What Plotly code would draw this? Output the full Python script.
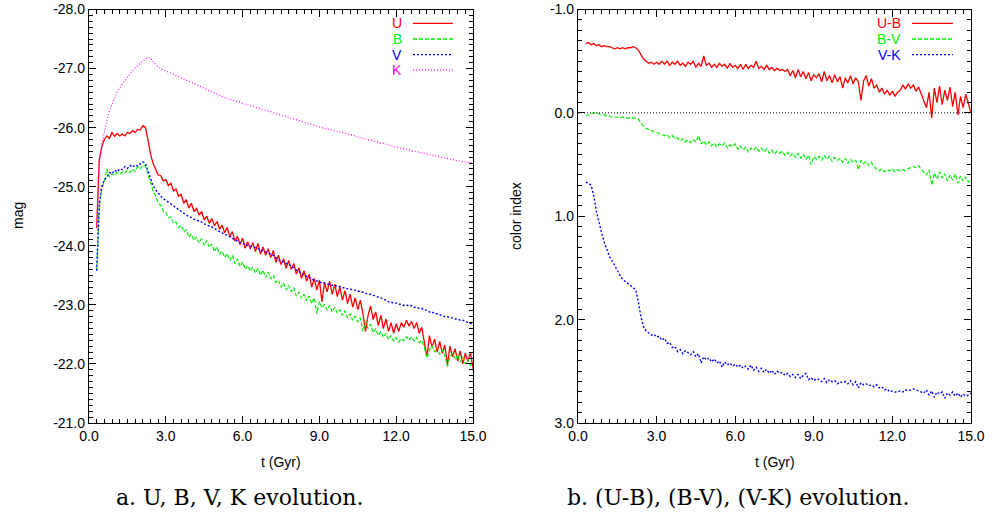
import plotly.graph_objects as go

# ---------------- data ----------------
t_gyr = [
    0.3, 0.4, 0.5, 0.6, 0.7, 0.8, 0.9, 1.0, 1.1, 1.2,
    1.3, 1.4, 1.5, 1.6, 1.7, 1.8, 1.9, 2.0, 2.1, 2.2,
    2.3, 2.4, 2.5, 2.6, 2.7, 2.8, 2.9, 3.0, 3.1, 3.2,
    3.3, 3.4, 3.5, 3.6, 3.7, 3.8, 3.9, 4.0, 4.1, 4.2,
    4.3, 4.4, 4.5, 4.6, 4.7, 4.8, 4.9, 5.0, 5.1, 5.2,
    5.3, 5.4, 5.5, 5.6, 5.7, 5.8, 5.9, 6.0, 6.1, 6.2,
    6.3, 6.4, 6.5, 6.6, 6.7, 6.8, 6.9, 7.0, 7.1, 7.2,
    7.3, 7.4, 7.5, 7.6, 7.7, 7.8, 7.9, 8.0, 8.1, 8.2,
    8.3, 8.4, 8.5, 8.6, 8.7, 8.8, 8.9, 9.0, 9.1, 9.2,
    9.3, 9.4, 9.5, 9.6, 9.7, 9.8, 9.9, 10.0, 10.1, 10.2,
    10.3, 10.4, 10.5, 10.6, 10.7, 10.8, 10.9, 11.0, 11.1, 11.2,
    11.3, 11.4, 11.5, 11.6, 11.7, 11.8, 11.9, 12.0, 12.1, 12.2,
    12.3, 12.4, 12.5, 12.6, 12.7, 12.8, 12.9, 13.0, 13.1, 13.2,
    13.3, 13.4, 13.5, 13.6, 13.7, 13.8, 13.9, 14.0, 14.1, 14.2,
    14.3, 14.4, 14.5, 14.6, 14.7, 14.8, 14.9, 15.0,
]

mag_U = [
    -24.30, -25.45, -25.68, -25.80, -25.86, -25.82, -25.92, -25.85, -25.90, -25.86,
    -25.89, -25.86, -25.92, -25.90, -25.95, -25.92, -25.97, -25.96, -26.03, -26.01,
    -25.80, -25.56, -25.40, -25.31, -25.20, -25.19, -25.10, -25.12, -25.02, -25.06,
    -24.93, -24.96, -24.84, -24.87, -24.72, -24.78, -24.64, -24.72, -24.58, -24.63,
    -24.52, -24.58, -24.44, -24.50, -24.38, -24.46, -24.34, -24.41, -24.28, -24.35,
    -24.22, -24.31, -24.15, -24.24, -24.08, -24.16, -24.02, -24.13, -23.96, -24.07,
    -23.95, -24.05, -23.90, -24.04, -23.86, -23.98, -23.84, -23.95, -23.80, -23.92,
    -23.72, -23.84, -23.68, -23.78, -23.62, -23.75, -23.60, -23.70, -23.52, -23.63,
    -23.45, -23.58, -23.40, -23.52, -23.30, -23.45, -23.25, -23.42, -23.05, -23.38,
    -23.22, -23.40, -23.18, -23.35, -23.14, -23.30, -23.08, -23.24, -23.02, -23.18,
    -22.96, -23.12, -22.92, -23.08, -22.85, -22.55, -22.82, -22.98, -22.75, -22.88,
    -22.65, -22.82, -22.60, -22.76, -22.55, -22.70, -22.52, -22.68, -22.55, -22.70,
    -22.62, -22.74, -22.64, -22.72, -22.60, -22.70, -22.52, -22.62, -22.40, -22.12,
    -22.48, -22.28, -22.42, -22.20, -22.38, -22.18, -22.32, -21.98, -22.30, -22.12,
    -22.26, -22.05, -22.22, -22.00, -22.18, -22.04, -22.20, -21.92,
]

mag_B = [
    -23.58, -24.65, -24.97, -25.08, -25.30, -25.16, -25.22, -25.19, -25.24, -25.21,
    -25.25, -25.23, -25.28, -25.24, -25.30, -25.26, -25.34, -25.30, -25.37, -25.35,
    -25.22, -25.06, -24.93, -24.85, -24.72, -24.69, -24.58, -24.57, -24.47, -24.49,
    -24.38, -24.40, -24.31, -24.35, -24.23, -24.27, -24.14, -24.20, -24.09, -24.15,
    -24.05, -24.12, -24.01, -24.09, -23.97, -24.03, -23.90, -23.98, -23.85, -23.91,
    -23.80, -23.87, -23.75, -23.84, -23.70, -23.78, -23.65, -23.73, -23.60, -23.67,
    -23.57, -23.64, -23.54, -23.62, -23.50, -23.59, -23.46, -23.55, -23.44, -23.50,
    -23.38, -23.42, -23.30, -23.37, -23.25, -23.33, -23.22, -23.29, -23.15, -23.22,
    -23.11, -23.18, -23.07, -23.15, -23.02, -23.12, -22.85, -23.06, -22.95, -23.01,
    -22.91, -22.99, -22.88, -22.96, -22.86, -22.92, -22.82, -22.90, -22.78, -22.85,
    -22.74, -22.81, -22.71, -22.78, -22.55, -22.72, -22.60, -22.67, -22.53, -22.60,
    -22.48, -22.55, -22.45, -22.52, -22.41, -22.48, -22.39, -22.45, -22.37, -22.43,
    -22.39, -22.46, -22.40, -22.46, -22.39, -22.45, -22.36, -22.40, -22.28, -22.10,
    -22.24, -22.31, -22.20, -22.28, -22.16, -22.24, -22.14, -21.96, -22.12, -22.19,
    -22.07, -22.15, -22.03, -22.12, -22.00, -22.08, -21.97, -22.02,
]

mag_V = [
    -23.58, -24.70, -25.00, -25.12, -25.16, -25.24, -25.22, -25.28, -25.25, -25.30,
    -25.29, -25.34, -25.31, -25.36, -25.33, -25.37, -25.35, -25.39, -25.42, -25.40,
    -25.28, -25.13, -25.02, -24.95, -24.89, -24.84, -24.80, -24.77, -24.73, -24.71,
    -24.67, -24.65, -24.61, -24.59, -24.55, -24.53, -24.49, -24.48, -24.45, -24.44,
    -24.41, -24.40, -24.37, -24.36, -24.33, -24.32, -24.29, -24.27, -24.24, -24.22,
    -24.19, -24.18, -24.15, -24.13, -24.10, -24.08, -24.05, -24.04, -24.01, -24.01,
    -23.99, -23.99, -23.97, -23.96, -23.93, -23.92, -23.89, -23.88, -23.85, -23.84,
    -23.80, -23.77, -23.73, -23.73, -23.70, -23.69, -23.65, -23.63, -23.59, -23.57,
    -23.53, -23.51, -23.48, -23.47, -23.43, -23.42, -23.40, -23.39, -23.37, -23.37,
    -23.35, -23.35, -23.33, -23.33, -23.31, -23.31, -23.29, -23.29, -23.27, -23.27,
    -23.25, -23.25, -23.23, -23.23, -23.21, -23.20, -23.18, -23.18, -23.16, -23.15,
    -23.13, -23.12, -23.09, -23.08, -23.05, -23.05, -23.03, -23.03, -23.01, -23.01,
    -22.99, -23.00, -22.98, -22.99, -22.96, -22.96, -22.94, -22.94, -22.91, -22.91,
    -22.88, -22.88, -22.85, -22.85, -22.83, -22.82, -22.80, -22.80, -22.78, -22.78,
    -22.76, -22.76, -22.74, -22.74, -22.72, -22.71, -22.69, -22.67,
]

mag_K = [
    -24.30, -25.35, -25.72, -25.95, -26.12, -26.28, -26.40, -26.50, -26.60, -26.68,
    -26.74, -26.80, -26.86, -26.91, -26.96, -27.01, -27.05, -27.09, -27.13, -27.16,
    -27.19, -27.18, -27.12, -27.07, -27.03, -27.00, -26.98, -26.96, -26.94, -26.92,
    -26.90, -26.88, -26.86, -26.84, -26.82, -26.80, -26.78, -26.76, -26.74, -26.72,
    -26.70, -26.68, -26.66, -26.64, -26.62, -26.60, -26.58, -26.56, -26.54, -26.52,
    -26.51, -26.49, -26.48, -26.47, -26.45, -26.44, -26.43, -26.41, -26.40, -26.39,
    -26.37, -26.36, -26.35, -26.33, -26.32, -26.31, -26.29, -26.28, -26.27, -26.25,
    -26.24, -26.23, -26.21, -26.20, -26.19, -26.17, -26.16, -26.15, -26.13, -26.12,
    -26.11, -26.09, -26.08, -26.07, -26.05, -26.04, -26.03, -26.01, -26.00, -25.99,
    -25.98, -25.97, -25.96, -25.95, -25.93, -25.92, -25.91, -25.90, -25.89, -25.88,
    -25.87, -25.86, -25.84, -25.83, -25.82, -25.81, -25.80, -25.79, -25.78, -25.77,
    -25.76, -25.75, -25.73, -25.72, -25.71, -25.70, -25.68, -25.67, -25.66, -25.65,
    -25.64, -25.63, -25.62, -25.61, -25.60, -25.59, -25.58, -25.57, -25.56, -25.55,
    -25.54, -25.53, -25.52, -25.51, -25.50, -25.49, -25.48, -25.47, -25.46, -25.45,
    -25.44, -25.44, -25.43, -25.42, -25.42, -25.41, -25.41, -25.40,
]

col_UB = [
    -0.67, -0.68, -0.66, -0.67, -0.65, -0.66, -0.64, -0.65, -0.64, -0.64,
    -0.63, -0.62, -0.63, -0.62, -0.63, -0.62, -0.63, -0.63, -0.64, -0.63,
    -0.61, -0.56, -0.52, -0.50, -0.48, -0.49, -0.47, -0.49, -0.47, -0.50,
    -0.47, -0.50, -0.46, -0.49, -0.47, -0.50, -0.46, -0.48, -0.45, -0.49,
    -0.47, -0.50, -0.44, -0.48, -0.45, -0.55, -0.46, -0.48, -0.44, -0.47,
    -0.44, -0.48, -0.45, -0.47, -0.43, -0.48, -0.44, -0.46, -0.43, -0.47,
    -0.42, -0.47, -0.43, -0.46, -0.44, -0.50, -0.43, -0.45, -0.42, -0.46,
    -0.42, -0.44, -0.41, -0.43, -0.41, -0.42, -0.40, -0.42, -0.36, -0.41,
    -0.34, -0.42, -0.35, -0.40, -0.33, -0.39, -0.31, -0.37, -0.34, -0.38,
    -0.30, -0.40, -0.31, -0.36, -0.29, -0.37, -0.30, -0.35, -0.24, -0.34,
    -0.29, -0.36, -0.28, -0.34, -0.30, -0.12, -0.31, -0.36, -0.26, -0.33,
    -0.24, -0.27, -0.20, -0.24, -0.18, -0.22, -0.17, -0.21, -0.16, -0.20,
    -0.22, -0.27, -0.23, -0.28, -0.24, -0.27, -0.21, -0.25, -0.18, -0.12,
    -0.05, -0.20, 0.05, -0.24, -0.10, -0.26, -0.08, -0.22, -0.12, -0.25,
    -0.06, -0.20, 0.02, -0.16, -0.05, -0.18, -0.08, 0.00,
]

col_BV = [
    0.03, 0.02, 0.01, 0.00, 0.00, 0.01, 0.02, 0.02, 0.03, 0.03,
    0.04, 0.04, 0.04, 0.05, 0.04, 0.05, 0.05, 0.05, 0.05, 0.05,
    0.06, 0.10, 0.13, 0.15, 0.16, 0.17, 0.18, 0.19, 0.20, 0.21,
    0.22, 0.21, 0.24, 0.22, 0.25, 0.24, 0.27, 0.25, 0.28, 0.26,
    0.29, 0.26, 0.28, 0.22, 0.30, 0.27, 0.31, 0.28, 0.32, 0.29,
    0.33, 0.30, 0.32, 0.29, 0.34, 0.31, 0.33, 0.30, 0.35, 0.32,
    0.36, 0.33, 0.38, 0.34, 0.36, 0.33, 0.37, 0.34, 0.38, 0.35,
    0.39, 0.36, 0.40, 0.37, 0.39, 0.37, 0.41, 0.38, 0.42, 0.39,
    0.43, 0.39, 0.44, 0.40, 0.45, 0.41, 0.50, 0.42, 0.45, 0.42,
    0.46, 0.41, 0.45, 0.42, 0.47, 0.43, 0.46, 0.44, 0.48, 0.44,
    0.49, 0.45, 0.48, 0.46, 0.55, 0.46, 0.49, 0.47, 0.51, 0.48,
    0.52, 0.55, 0.56, 0.54, 0.57, 0.55, 0.56, 0.54, 0.57, 0.55,
    0.56, 0.55, 0.56, 0.54, 0.53, 0.52, 0.53, 0.51, 0.55, 0.57,
    0.60, 0.55, 0.70, 0.58, 0.64, 0.57, 0.63, 0.59, 0.66, 0.60,
    0.65, 0.59, 0.68, 0.61, 0.66, 0.62, 0.67, 0.64,
]

col_VK = [
    0.67, 0.68, 0.70, 0.80, 0.95, 1.07, 1.16, 1.25, 1.33, 1.39,
    1.43, 1.48, 1.52, 1.57, 1.61, 1.63, 1.65, 1.67, 1.69, 1.71,
    1.82, 1.97, 2.07, 2.11, 2.13, 2.15, 2.14, 2.17, 2.16, 2.20,
    2.18, 2.23, 2.22, 2.27, 2.26, 2.31, 2.29, 2.33, 2.30, 2.32,
    2.34, 2.31, 2.36, 2.33, 2.42, 2.36, 2.39, 2.37, 2.41, 2.38,
    2.42, 2.40, 2.46, 2.41, 2.44, 2.42, 2.45, 2.43, 2.46, 2.44,
    2.47, 2.45, 2.48, 2.44, 2.49, 2.46, 2.50, 2.47, 2.51, 2.48,
    2.52, 2.49, 2.53, 2.50, 2.52, 2.51, 2.54, 2.52, 2.55, 2.53,
    2.56, 2.53, 2.57, 2.54, 2.52, 2.58, 2.56, 2.59, 2.57, 2.58,
    2.60, 2.57, 2.61, 2.58, 2.60, 2.59, 2.62, 2.60, 2.61, 2.60,
    2.62, 2.59, 2.63, 2.60, 2.66, 2.61, 2.63, 2.62, 2.64, 2.63,
    2.65, 2.63, 2.66, 2.65, 2.68, 2.67, 2.70, 2.69, 2.70, 2.70,
    2.69, 2.70, 2.68, 2.69, 2.68, 2.67, 2.68, 2.69, 2.70, 2.71,
    2.68, 2.73, 2.69, 2.75, 2.70, 2.72, 2.70, 2.76, 2.71, 2.73,
    2.70, 2.74, 2.71, 2.75, 2.72, 2.74, 2.73, 2.71,
]

x_ticks = [0, 3, 6, 9, 12, 15]
x_tick_text = ["0.0", "3.0", "6.0", "9.0", "12.0", "15.0"]
mag_ticks = [-28, -27, -26, -25, -24, -23, -22, -21]
mag_tick_text = ["-28.0", "-27.0", "-26.0", "-25.0", "-24.0", "-23.0", "-22.0", "-21.0"]
col_ticks = [-1, 0, 1, 2, 3]
col_tick_text = ["-1.0", "0.0", "1.0", "2.0", "3.0"]
zero_level = 0.0

# ---------------- styling ----------------
W, H = 992, 516
RED, GREEN, BLUE, MAGENTA = "#ff0000", "#00f000", "#0000ff", "#ff00ff"
SANS = "Liberation Sans, Arial, Helvetica, sans-serif"
SERIF = "DejaVu Serif, serif"


def px(x):
    return x / W


def py(y):
    return 1 - y / H


fig = go.Figure()

left_series = [
    (mag_U, RED, "solid", 1.3),
    (mag_B, GREEN, "4px,2px", 1.2),
    (mag_V, BLUE, "2px,2px", 1.4),
    (mag_K, MAGENTA, "1px,2px", 1.2),
]
for vals, c, d, w in left_series:
    fig.add_trace(go.Scatter(x=t_gyr, y=vals, mode="lines",
                             line=dict(color=c, dash=d, width=w),
                             xaxis="x", yaxis="y", hoverinfo="skip"))

right_series = [
    (col_UB, RED, "solid", 1.3),
    (col_BV, GREEN, "4px,2px", 1.2),
    (col_VK, BLUE, "2px,2px", 1.4),
]
for vals, c, d, w in right_series:
    fig.add_trace(go.Scatter(x=t_gyr, y=vals, mode="lines",
                             line=dict(color=c, dash=d, width=w),
                             xaxis="x2", yaxis="y2", hoverinfo="skip"))


def axis_style(**kw):
    d = dict(showline=True, linecolor="black", linewidth=1.3, mirror="ticks",
             ticks="inside", ticklen=7, tickwidth=1.2, tickcolor="black",
             showgrid=False, zeroline=False, fixedrange=True, automargin=False,
             ticklabeloverflow="allow",
             tickfont=dict(family=SANS, size=14, color="black"),
             tickmode="array")
    d.update(kw)
    return d


fig.update_layout(
    width=W, height=H,
    margin=dict(l=0, r=0, t=0, b=0, autoexpand=False),
    paper_bgcolor="white", plot_bgcolor="white",
    showlegend=False,
    xaxis=axis_style(domain=[px(89), px(473)], range=[0, 15], anchor="y",
                     tickvals=x_ticks, ticktext=x_tick_text,
                     minor=dict(ticks="inside", ticklen=4, tickwidth=1, tickcolor="black",
                                tick0=0, dtick=0.3, showgrid=False)),
    yaxis=axis_style(domain=[py(423), py(9.5)], range=[-21, -28], anchor="x",
                     tickvals=mag_ticks, ticktext=mag_tick_text,
                     minor=dict(ticks="inside", ticklen=4, tickwidth=1, tickcolor="black",
                                tick0=0, dtick=0.1, showgrid=False)),
    xaxis2=axis_style(domain=[px(578), px(971)], range=[0, 15], anchor="y2",
                      tickvals=x_ticks, ticktext=x_tick_text,
                      minor=dict(ticks="inside", ticklen=4, tickwidth=1, tickcolor="black",
                                 tick0=0, dtick=0.3, showgrid=False)),
    yaxis2=axis_style(domain=[py(423), py(9.5)], range=[3, -1], anchor="x2",
                      tickvals=col_ticks, ticktext=col_tick_text,
                      minor=dict(ticks="inside", ticklen=4, tickwidth=1, tickcolor="black",
                                 tick0=0, dtick=0.1, showgrid=False)),
)

# zero reference line in right panel
fig.add_shape(type="line", xref="x2 domain", yref="y2", x0=0, x1=1,
              y0=zero_level, y1=zero_level,
              line=dict(color="black", width=1, dash="1px,2px"))

# legends (text left of sample line, gnuplot style)
legend_left = [("U", RED, "solid", 23.3), ("B", GREEN, "4px,2px", 39.0),
               ("V", BLUE, "2px,2px", 54.6), ("K", MAGENTA, "1px,2px", 70.2)]
for name, c, d, yy in legend_left:
    fig.add_annotation(text=name, x=px(403), y=py(yy), xref="paper", yref="paper",
                       xanchor="right", yanchor="middle", showarrow=False, borderpad=0,
                       font=dict(family=SANS, size=14, color=c))
    fig.add_shape(type="line", xref="paper", yref="paper", x0=px(413), x1=px(453),
                  y0=py(yy), y1=py(yy), line=dict(color=c, width=1.3, dash=d))

legend_right = [("U-B", RED, "solid", 23.3), ("B-V", GREEN, "4px,2px", 39.0),
                ("V-K", BLUE, "2px,2px", 54.6)]
for name, c, d, yy in legend_right:
    fig.add_annotation(text=name, x=px(902), y=py(yy), xref="paper", yref="paper",
                       xanchor="right", yanchor="middle", showarrow=False, borderpad=0,
                       font=dict(family=SANS, size=14, color=c))
    fig.add_shape(type="line", xref="paper", yref="paper", x0=px(912), x1=px(953),
                  y0=py(yy), y1=py(yy), line=dict(color=c, width=1.3, dash=d))

# axis titles
titles = [
    ("t (Gyr)", 281, 462, 0),
    ("t (Gyr)", 775, 462, 0),
    ("mag", 18, 216, -90),
    ("color index", 516, 216, -90),
]
for txt, xx, yy, ang in titles:
    fig.add_annotation(text=txt, x=px(xx), y=py(yy), xref="paper", yref="paper",
                       xanchor="center", yanchor="middle", showarrow=False, textangle=ang,
                       font=dict(family=SANS, size=14, color="black"))

# captions
captions = [("a. U, B, V, K evolution.", 239, 497),
            ("b. (U-B), (B-V), (V-K) evolution.", 738, 497)]
for txt, xx, yy in captions:
    fig.add_annotation(text=txt, x=px(xx), y=py(yy), xref="paper", yref="paper",
                       xanchor="center", yanchor="middle", showarrow=False,
                       font=dict(family=SERIF, size=22, color="black"))

# the page body has a default 8px margin; remove it so the figure fills the window
fig.write_html("out.html", config={"displayModeBar": False},
               post_script="document.body.style.margin='0';")
